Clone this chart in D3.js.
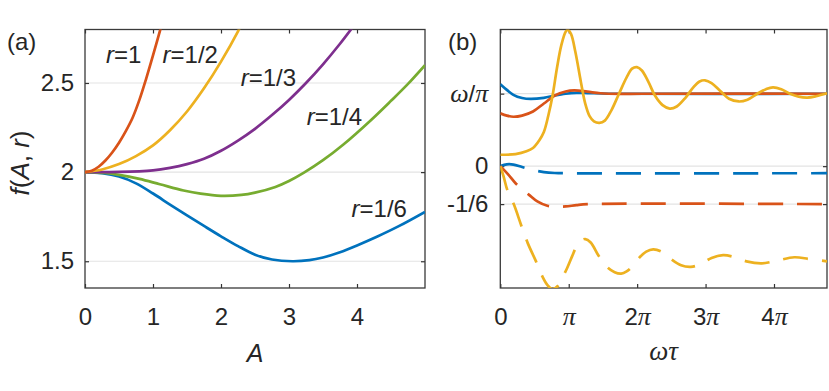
<!DOCTYPE html>
<html>
<head>
<meta charset="utf-8">
<script src="https://cdn.jsdelivr.net/npm/d3@7"></script>
<style>
body { margin: 0; background: #fff; }
svg text { font-family: "Liberation Sans", Arial, Helvetica, sans-serif; fill: #262626; }
.tick line { stroke: #333; }
</style>
</head>
<body>
<div id="chart"></div>
<script>
// ---- panel (a): f(A,r) ----
var aTicks = [0, 1, 2, 3, 4];
var fTicks = [1.5, 2, 2.5];

var fR1 = [[0,2],[0.1,2.008],[0.2,2.03],[0.3,2.065],[0.4,2.11],[0.5,2.165],[0.6,2.23],[0.7,2.305],[0.8,2.405],[0.9,2.525],[1.0,2.655],[1.13,2.83]];
var fR2 = [[0,2],[0.25,2.015],[0.5,2.045],[0.75,2.09],[1.0,2.15],[1.25,2.235],[1.5,2.34],[1.75,2.47],[2.0,2.62],[2.25,2.79],[2.3,2.83]];
var fR3 = [[0,2],[0.5,2.001],[1.0,2.01],[1.25,2.024],[1.5,2.045],[1.75,2.075],[2.0,2.12],[2.25,2.177],[2.5,2.243],[2.75,2.32],[3.0,2.405],[3.25,2.5],[3.5,2.605],[3.75,2.72],[3.95,2.82]];
var fR4 = [[0,2],[0.3,1.995],[0.5,1.985],[0.8,1.962],[1.1,1.932],[1.45,1.897],[1.7,1.879],[2.0,1.867],[2.3,1.872],[2.5,1.885],[2.8,1.917],[3.0,1.95],[3.22,1.997],[3.5,2.067],[3.8,2.155],[4.2,2.29],[4.5,2.40],[4.75,2.495],[5.0,2.6]];
var fR6 = [[0,2],[0.25,1.994],[0.5,1.975],[0.75,1.937],[1.0,1.88],[1.25,1.818],[1.5,1.757],[1.75,1.698],[2.0,1.64],[2.25,1.585],[2.5,1.537],[2.75,1.51],[3.05,1.5],[3.3,1.506],[3.5,1.521],[3.75,1.551],[4.0,1.589],[4.3,1.639],[4.6,1.694],[5.0,1.777]];

var seriesA = [
  {pts: fR6, color: "#0072BD", label: "1/6", at: [3.92, 1.749]},
  {pts: fR4, color: "#77AC30", label: "1/4", at: [3.26, 2.264]},
  {pts: fR3, color: "#7E2F8E", label: "1/3", at: [2.29, 2.483]},
  {pts: fR2, color: "#EDB120", label: "1/2", at: [1.14, 2.612]},
  {pts: fR1, color: "#D95319", label: "1", at: [0.31, 2.612]}
];

// ---- panel (b): time traces vs omega*tau ----
var tTicks = [0, Math.PI, 2*Math.PI, 3*Math.PI, 4*Math.PI];
var tTickLabels = ["0", "\u03c0", "2\u03c0", "3\u03c0", "4\u03c0"];
var vTicks = [-1/6, 0, 1/Math.PI];
var vTickLabels = ["-1/6", "0", "\u03c9/\u03c0"];

var blueSolid = [[0,0.36],[0.3,0.335],[0.6,0.313],[1.0,0.299],[1.4,0.295],[2.0,0.30],[2.5,0.31],[3.0,0.318],[3.5,0.322],[4.0,0.321],[5,0.318],[15,0.318]];
var redSolid = [[0,0.232],[0.3,0.222],[0.6,0.217],[1.0,0.222],[1.5,0.24],[2.0,0.275],[2.5,0.31],[3.0,0.328],[3.4,0.333],[4.0,0.327],[4.6,0.32],[5.5,0.317],[6.5,0.318],[15,0.318]];
var yellowSolid = [[0,0.05],[0.7,0.053],[1.2,0.065],[1.5,0.08],[1.8,0.115],[2.0,0.15],[2.2,0.22],[2.4,0.31],[2.6,0.43],[2.8,0.53],[3.0,0.59],[3.1,0.598],[3.25,0.58],[3.45,0.5],[3.7,0.37],[3.9,0.275],[4.1,0.22],[4.3,0.197],[4.55,0.19],[4.8,0.2],[5.1,0.245],[5.45,0.318],[5.8,0.39],[6.05,0.428],[6.27,0.435],[6.5,0.42],[6.8,0.37],[7.1,0.31],[7.45,0.268],[7.78,0.253],[8.1,0.262],[8.5,0.3],[8.85,0.345],[9.15,0.372],[9.4,0.377],[9.7,0.365],[10.1,0.33],[10.5,0.296],[10.95,0.284],[11.35,0.292],[11.8,0.318],[12.2,0.338],[12.52,0.346],[12.9,0.338],[13.3,0.318],[13.7,0.305],[14.1,0.301],[14.5,0.307],[15,0.32]];
var blueDashed = [[0,0],[0.3,0.008],[0.6,0.007],[1.0,-0.004],[1.5,-0.017],[2.0,-0.026],[2.5,-0.03],[3.0,-0.031],[15,-0.031]];
var redDashed = [[0,0],[0.35,-0.035],[0.7,-0.075],[1.0,-0.1],[1.32,-0.126],[1.7,-0.155],[2.16,-0.174],[2.6,-0.178],[3.0,-0.177],[3.5,-0.171],[4.0,-0.167],[15,-0.1667]];
var yellowDashed = [[0,0],[0.15,-0.045],[0.32,-0.104],[0.63,-0.17],[0.95,-0.257],[1.26,-0.338],[1.64,-0.418],[1.93,-0.484],[2.15,-0.52],[2.4,-0.54],[2.65,-0.525],[2.85,-0.49],[3.07,-0.447],[3.3,-0.395],[3.46,-0.36],[3.7,-0.328],[3.9,-0.32],[4.15,-0.335],[4.53,-0.396],[4.9,-0.443],[5.25,-0.466],[5.55,-0.472],[5.8,-0.462],[6.06,-0.44],[6.4,-0.4],[6.7,-0.375],[7.02,-0.365],[7.4,-0.375],[7.8,-0.405],[8.3,-0.435],[8.75,-0.442],[9.2,-0.43],[9.7,-0.403],[10.23,-0.391],[10.7,-0.398],[11.3,-0.418],[12.0,-0.427],[12.7,-0.415],[13.5,-0.4],[14.2,-0.408],[15,-0.418]];

var seriesB = [
  {pts: blueSolid, color: "#0072BD", dash: null},
  {pts: redSolid, color: "#D95319", dash: null},
  {pts: yellowSolid, color: "#EDB120", dash: null},
  {pts: blueDashed, color: "#0072BD", dash: "25,14"},
  {pts: redDashed, color: "#D95319", dash: "25,14"},
  {pts: yellowDashed, color: "#EDB120", dash: "25,14"}
];

var W = 829, H = 391;
var fs = 24;
var serif = '"Liberation Serif", "Times New Roman", serif';

var svg = d3.select("#chart").append("svg")
    .attr("width", W)
    .attr("height", H);

var plotTop = 29.5, plotBottom = 288;

// greek letters in tick labels get a serif italic, like the TeX symbols
function greekify(sel) {
  sel.each(function() {
    var t = d3.select(this), s = t.text();
    if (!/[\u03b1-\u03c9]/.test(s)) return;
    t.text(null);
    s.split("").forEach(function(ch) {
      var sp = t.append("tspan").text(ch);
      if (/[\u03b1-\u03c9]/.test(ch)) {
        sp.style("font-family", serif).style("font-style", "italic").style("font-size", (fs + 2) + "px");
      }
    });
  });
}

// axes helper: box, grid, inward ticks on all sides
function frame(g, x, y, xt, xl, yt, yl, pad) {
  var x0 = x.range()[0], x1 = x.range()[1];
  var y0 = y.range()[1], y1 = y.range()[0];

  g.append("g").selectAll("line")
    .data(yt).enter().append("line")
      .attr("x1", x0).attr("x2", x1)
      .attr("y1", function(d){ return y(d); })
      .attr("y2", function(d){ return y(d); })
      .style("stroke", "#e3e3e3")
      .style("stroke-width", 1.2);

  var xb = g.append("g").attr("transform", "translate(0," + y1 + ")")
    .call(d3.axisBottom(x).tickValues(xt).tickFormat(function(d, i){ return xl[i]; })
      .tickSizeInner(-4).tickSizeOuter(0).tickPadding(19.5));
  var xtp = g.append("g").attr("transform", "translate(0," + y0 + ")")
    .call(d3.axisTop(x).tickValues(xt).tickFormat("").tickSizeInner(-4).tickSizeOuter(0));
  var yl_ = g.append("g").attr("transform", "translate(" + x0 + ",0)")
    .call(d3.axisLeft(y).tickValues(yt).tickFormat(function(d, i){ return yl[i]; })
      .tickSizeInner(-4).tickSizeOuter(0).tickPadding(pad));
  var yr = g.append("g").attr("transform", "translate(" + x1 + ",0)")
    .call(d3.axisRight(y).tickValues(yt).tickFormat("").tickSizeInner(-4).tickSizeOuter(0));

  [xb, xtp, yl_, yr].forEach(function(a){
    a.select(".domain").remove();
    a.selectAll("text").style("font-size", fs + "px");
    a.selectAll(".tick line").style("stroke", "#333").style("stroke-width", 1.2);
    greekify(a.selectAll(".tick text"));
  });

  g.append("rect")
    .attr("x", x0).attr("y", y0)
    .attr("width", x1 - x0).attr("height", y1 - y0)
    .style("fill", "none")
    .style("stroke", "#3a3a3a")
    .style("stroke-width", 1.3);
}

// ---------- panel (a) ----------
var xA = d3.scaleLinear().domain([0, 5]).range([85, 425]);
var yA = d3.scaleLinear().domain([1.35, 2.8]).range([plotBottom, plotTop]);

var gA = svg.append("g");
svg.append("clipPath").attr("id", "clipA").append("rect")
  .attr("x", 85).attr("y", plotTop).attr("width", 340).attr("height", plotBottom - plotTop);

frame(gA, xA, yA, aTicks, aTicks.map(String), fTicks, fTicks.map(String), 11);

var lineA = d3.line()
  .x(function(d){ return xA(d[0]); })
  .y(function(d){ return yA(d[1]); })
  .curve(d3.curveCatmullRom.alpha(0.5));

gA.append("g").attr("clip-path", "url(#clipA)")
  .selectAll("path")
  .data(seriesA).enter().append("path")
    .attr("d", function(d){ return lineA(d.pts); })
    .style("fill", "none")
    .style("stroke", function(d){ return d.color; })
    .style("stroke-width", 2.7);

var labA = gA.selectAll(".rlab")
  .data(seriesA).enter().append("text")
    .attr("class", "rlab")
    .attr("x", function(d){ return xA(d.at[0]); })
    .attr("y", function(d){ return yA(d.at[1]); })
    .style("font-size", fs + "px");
labA.append("tspan").style("font-style", "italic").text("r");
labA.append("tspan").text(function(d){ return "=" + d.label; });

svg.append("text").attr("x", 7).attr("y", 50).style("font-size", fs + "px").text("(a)");

svg.append("text")
  .attr("x", xA(2.5)).attr("y", 362)
  .attr("text-anchor", "middle")
  .style("font-size", (fs + 1) + "px")
  .style("font-style", "italic")
  .text("A");

var yLab = svg.append("text")
  .attr("transform", "translate(29,163) rotate(-90)")
  .attr("text-anchor", "middle")
  .style("font-size", (fs + 2) + "px");
yLab.append("tspan").style("font-style", "italic").text("f");
yLab.append("tspan").text("(");
yLab.append("tspan").style("font-style", "italic").text("A");
yLab.append("tspan").text(", ");
yLab.append("tspan").style("font-style", "italic").text("r");
yLab.append("tspan").text(")");

// ---------- panel (b) ----------
var xB = d3.scaleLinear().domain([0, 15]).range([500.3, 827]);
var yB = d3.scaleLinear().domain([-0.535, 0.6]).range([plotBottom, plotTop]);

var gB = svg.append("g");
svg.append("clipPath").attr("id", "clipB").append("rect")
  .attr("x", 500.3).attr("y", plotTop).attr("width", 327).attr("height", plotBottom - plotTop);

frame(gB, xB, yB, tTicks, tTickLabels, vTicks, vTickLabels, 12);

var lineB = d3.line()
  .x(function(d){ return xB(d[0]); })
  .y(function(d){ return yB(d[1]); })
  .curve(d3.curveCatmullRom.alpha(0.5));

gB.append("g").attr("clip-path", "url(#clipB)")
  .selectAll("path")
  .data(seriesB).enter().append("path")
    .attr("d", function(d){ return lineB(d.pts); })
    .style("fill", "none")
    .style("stroke", function(d){ return d.color; })
    .style("stroke-width", 2.7)
    .style("stroke-dasharray", function(d){ return d.dash; });

svg.append("text").attr("x", 448).attr("y", 50).style("font-size", fs + "px").text("(b)");

svg.append("text")
  .attr("x", (500.3 + 827) / 2).attr("y", 360)
  .attr("text-anchor", "middle")
  .style("font-size", (fs + 3) + "px")
  .style("font-family", serif)
  .style("font-style", "italic")
  .text("\u03c9\u03c4");
</script>
</body>
</html>
